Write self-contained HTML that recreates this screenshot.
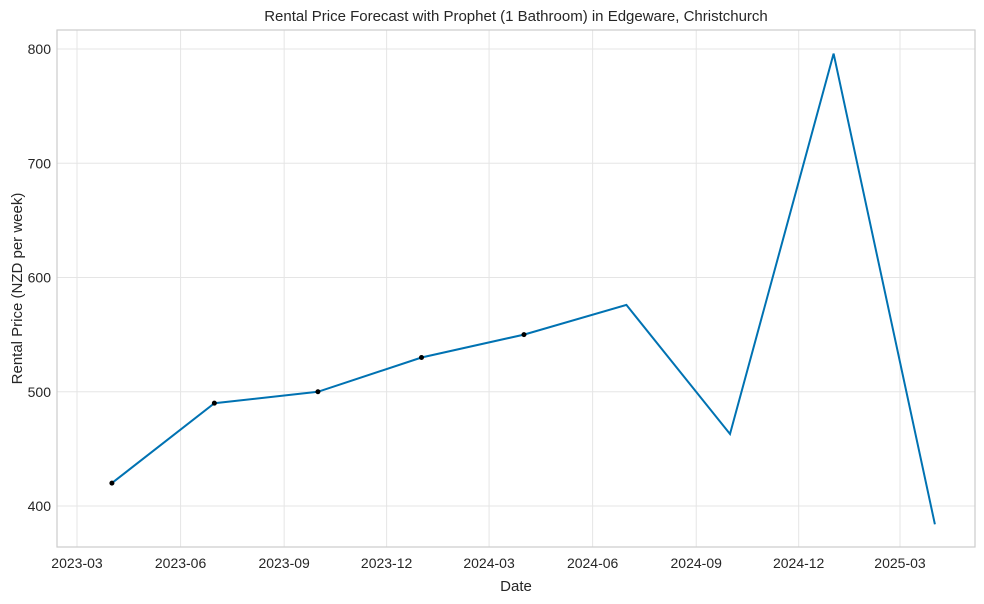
<!DOCTYPE html>
<html><head><meta charset="utf-8">
<style>
body{margin:0;background:#fff;font-family:"Liberation Sans",Arial,sans-serif;}
svg{display:block}
text{font-family:"Liberation Sans",Arial,sans-serif;fill:#262626}
</style></head>
<body>
<svg id="chart" width="984" height="604"></svg>
<script>
const dates = ["2023-04-01","2023-07-01","2023-10-01","2024-01-01","2024-04-01","2024-07-01","2024-10-01","2025-01-01","2025-04-01"];
const prices = [420,490,500,530,550,576,463,796,384];
const observedCount = 5;
const xTickLabels = ["2023-03","2023-06","2023-09","2023-12","2024-03","2024-06","2024-09","2024-12","2025-03"];
const yTicks = [400,500,600,700,800];

const svg = document.getElementById('chart');
const NS = 'http://www.w3.org/2000/svg';
const L=57,R=975,T=30,B=547;
const d0 = Date.parse("2023-03-01"), d1 = Date.parse("2025-03-01");
function xs(d){ return 77 + (Date.parse(d)-d0)/(d1-d0)*(900-77); }
function ys(v){ return 506 - (v-400)*(506-49)/400; }
function el(tag, attrs, name){
  const e = document.createElementNS(NS, tag);
  for (const k in attrs) e.setAttribute(k, attrs[k]);
  
  
  svg.appendChild(e); return e;
}
// grid
yTicks.forEach(v=>{
  const g = el('line',{x1:L,x2:R,y1:ys(v),y2:ys(v),stroke:'#e5e5e5','stroke-width':1},'y-gridline');
  const t = el('text',{x:L-6,y:ys(v)+5,'text-anchor':'end','font-size':14},'y-tick-label');
  t.textContent = v;
});
xTickLabels.forEach(s=>{
  const x = xs(s+"-01");
  el('line',{x1:x,x2:x,y1:T,y2:B,stroke:'#e5e5e5','stroke-width':1},'x-gridline');
  const t = el('text',{x:x,y:B+21,'text-anchor':'middle','font-size':14},'x-tick-label');
  t.textContent = s;
});
el('rect',{x:L,y:T,width:R-L,height:B-T,fill:'none',stroke:'#cccccc','stroke-width':1.2},'plot-frame');
// line
const pts = dates.map((d,i)=>xs(d).toFixed(1)+','+ys(prices[i]).toFixed(1)).join(' ');
el('polyline',{points:pts,fill:'none',stroke:'#0072b2','stroke-width':2},'forecast-line');
for(let i=0;i<observedCount;i++){
  el('circle',{cx:xs(dates[i]),cy:ys(prices[i]),r:2.5,fill:'#000'},'observed-point');
}
const title = el('text',{x:(L+R)/2,y:21,'text-anchor':'middle','font-size':15},'chart-title');
title.textContent = 'Rental Price Forecast with Prophet (1 Bathroom) in Edgeware, Christchurch';
const xl = el('text',{x:(L+R)/2,y:591,'text-anchor':'middle','font-size':15},'x-axis-title');
xl.textContent = 'Date';
const yl = el('text',{x:0,y:0,'text-anchor':'middle','font-size':15,transform:'translate(22,'+((T+B)/2)+') rotate(-90)'},'y-axis-title');
yl.textContent = 'Rental Price (NZD per week)';
</script>
</body></html>
